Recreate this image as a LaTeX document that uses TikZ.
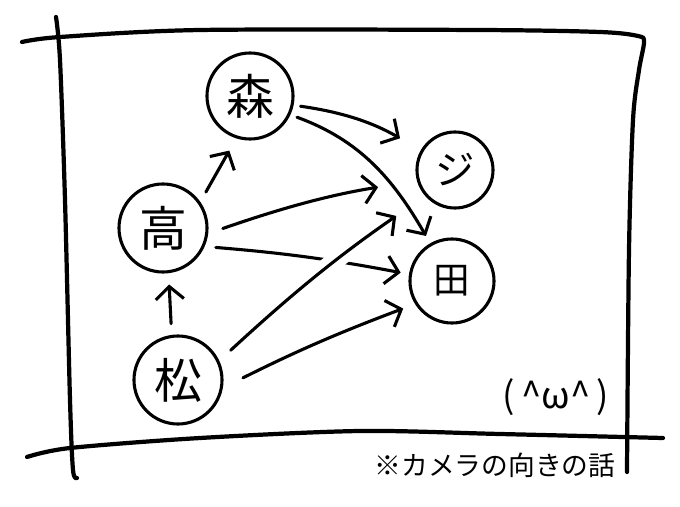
\documentclass[tikz,border=0pt]{standalone}
\usepackage{fontspec}
\newfontfamily\jpfont{Noto Sans CJK JP}
\usepackage{tikz}
\usetikzlibrary{arrows.meta}

\begin{document}
\begin{tikzpicture}[x=0.025cm, y=0.025cm,
  frame/.style={line width=3pt, line cap=round, line join=round},
  person/.style={circle, draw, line width=2.2pt, inner sep=0pt, font=\jpfont\fontsize{34}{34}\selectfont},
  arr/.style={line width=2.2pt, line cap=round, -{Straight Barb[length=9pt, width=20pt, line width=2.2pt]}},
  cross/.style={preaction={draw=white, line width=13pt, line cap=butt, -}}]
  \useasboundingbox (0,0) rectangle (680,-507);

  % Hand-drawn frame (top + right, left, bottom)
  \draw[frame] plot[smooth, tension=0.5] coordinates {(22,-42) (60,-37) (200,-30) (480,-30) (600,-32)
        (638,-36) (644,-42) (639,-70) (633,-120) (629,-250) (627,-472)};
  \draw[frame] plot[smooth] coordinates {(56,-17) (60,-60) (65,-200) (70,-400) (73,-470) (77,-478)};
  \draw[frame] plot[smooth] coordinates {(27,-457) (70,-448) (200,-438) (360,-431) (500,-434) (663,-438)};

  % People
  \node[person, minimum size=2.15cm] (mori) at (250,-96) {森};
  \node[person, minimum size=1.9cm, font=\jpfont\fontsize{28}{28}\selectfont] (ji) at (455,-170) {ジ};
  \node[person, minimum size=2.2cm] (taka) at (163,-228) {高};
  \node[person, minimum size=2.1cm, font=\jpfont\fontsize{26}{26}\selectfont] (den) at (452,-281) {田};
  \node[person, minimum size=2.2cm] (matsu) at (178,-380) {松};

  % Who faces whom
  \draw[arr, shorten <=8pt, shorten >=8pt] (matsu.98) -- (taka.277);
  \draw[arr, shorten <=8pt, shorten >=10pt] (taka.35) -- (mori.252);
  \draw[arr, shorten <=5pt, shorten >=17pt] (mori.-12) to[out=-8, in=150] (ji.150);
  \draw[arr, shorten <=11pt, shorten >=28pt] (taka.-7) to[bend left=5] (ji.196);
  \draw[arr, shorten <=8pt, shorten >=6pt] (taka.-24) to[bend left=3] (den.171);
  \draw[arr, cross, shorten <=11pt, shorten >=25pt] (matsu.25) to[bend left=4] (ji.221);
  \draw[arr, shorten <=16pt, shorten >=9pt] (matsu.-10) to[bend left=3] (den.212);
  \draw[arr, shorten <=5pt, shorten >=6pt] (mori.-25) to[out=-20, in=120] (den.120);

  % Face and note
  \node[font=\jpfont\fontsize{26}{26}\selectfont] (face) at (556,-397) {(\,\textasciicircum ω\textasciicircum\,)};
  \node[font=\jpfont\fontsize{19}{19}\selectfont] (note) at (495,-465) {※カメラの向きの話};

\end{tikzpicture}
\end{document}
